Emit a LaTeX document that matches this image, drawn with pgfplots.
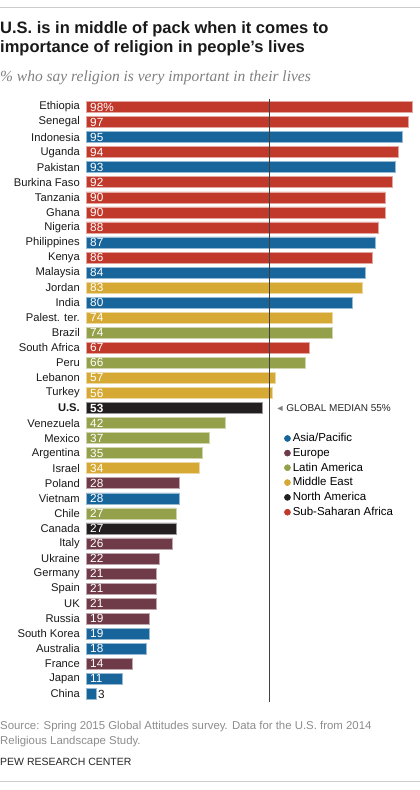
\documentclass[border=0pt]{standalone}
\usepackage{fontspec}
\setmainfont{Liberation Sans}
\newfontfamily\serifit{Liberation Serif}
\usepackage{pgfplots}
\pgfplotsset{compat=1.18}
\definecolor{cAsia}{HTML}{17659B}
\definecolor{cEurope}{HTML}{703B48}
\definecolor{cLatin}{HTML}{95A04B}
\definecolor{cMideast}{HTML}{D5A934}
\definecolor{cNorth}{HTML}{231F20}
\definecolor{cAfrica}{HTML}{C0392B}
\pgfplotsset{
  mybar/.style={xbar, bar shift=0pt, bar width=11pt, fill=#1, draw=#1!45!white, line width=0.6pt,
    legend image code/.code={\fill[#1] (3pt,0pt) circle (3pt);}},
}
\begin{document}
\begin{tikzpicture}[x=1pt,y=1pt]
\path[use as bounding box] (0,0) rectangle (420,-790);
\draw[black!20, line width=1pt] (0,-7) -- (420,-7);
\node[anchor=base west, inner sep=0pt, font=\fontsize{16.5}{20}\selectfont\bfseries, text=black!90] at (0,-33.3) {U.S. is in middle of pack when it comes to};
\node[anchor=base west, inner sep=0pt, font=\fontsize{16.5}{20}\selectfont\bfseries, text=black!90] at (0,-52.7) {importance of religion in people’s lives};
\node[anchor=base west, inner sep=0pt, font=\fontsize{15.5}{18}\selectfont\serifit\itshape, text=black!50] at (0,-81.7) {\% who say religion is very important in their lives};

\begin{axis}[at={(86pt,-99.5pt)}, anchor=north west, scale only axis,
  width=332.7pt, height=602pt,
  xmin=0, xmax=100, ymin=0.5, ymax=40.5, y dir=reverse, clip=false,
  axis line style={draw=none}, xtick=\empty, ytick={1,...,40}, major tick length=0pt,
  yticklabels={Ethiopia,Senegal,Indonesia,Uganda,Pakistan,Burkina Faso,Tanzania,Ghana,Nigeria,Philippines,Kenya,Malaysia,Jordan,India,Palest. ter.,Brazil,South Africa,Peru,Lebanon,Turkey,\textbf{U.S.},Venezuela,Mexico,Argentina,Israel,Poland,Vietnam,Chile,Canada,Italy,Ukraine,Germany,Spain,UK,Russia,South Korea,Australia,France,Japan,China},
  yticklabel style={font=\fontsize{11.2}{13}\selectfont, anchor=east, inner sep=0pt, xshift=-6pt, text=black!90},
  legend style={at={(axis cs:59.5,22.55)}, anchor=north west, draw=none, fill=none,
    font=\fontsize{11.5}{13}\selectfont, row sep=1pt, inner sep=0pt},
  legend cell align=left,
]
\addplot[mybar=cAsia] coordinates {(95,3) (93,5) (87,10) (84,12) (80,14) (28,27) (19,36) (18,37) (11,39) (3,40)};
\addlegendentry{Asia/Pacific}
\addplot[mybar=cEurope] coordinates {(28,26) (26,30) (22,31) (21,32) (21,33) (21,34) (19,35) (14,38)};
\addlegendentry{Europe}
\addplot[mybar=cLatin] coordinates {(74,16) (66,18) (42,22) (37,23) (35,24) (27,28)};
\addlegendentry{Latin America}
\addplot[mybar=cMideast] coordinates {(83,13) (74,15) (57,19) (56,20) (34,25)};
\addlegendentry{Middle East}
\addplot[mybar=cNorth] coordinates {(53,21) (27,29)};
\addlegendentry{North America}
\addplot[mybar=cAfrica] coordinates {(98,1) (97,2) (94,4) (92,6) (90,7) (90,8) (88,9) (86,11) (67,17)};
\addlegendentry{Sub-Saharan Africa}

\addplot[forget plot, draw=none, mark=none, nodes near coords, point meta=explicit symbolic,
  nodes near coords style={anchor=west, text=white, font=\fontsize{11.8}{13}\selectfont, inner sep=0pt, xshift=4pt}]
  coordinates {(0,1) [98\%] (0,2) [97] (0,3) [95] (0,4) [94] (0,5) [93] (0,6) [92] (0,7) [90] (0,8) [90]
  (0,9) [88] (0,10) [87] (0,11) [86] (0,12) [84] (0,13) [83] (0,14) [80] (0,15) [74] (0,16) [74]
  (0,17) [67] (0,18) [66] (0,19) [57] (0,20) [56] (0,21) [\textbf{53}] (0,22) [42] (0,23) [37] (0,24) [35]
  (0,25) [34] (0,26) [28] (0,27) [28] (0,28) [27] (0,29) [27] (0,30) [26] (0,31) [22] (0,32) [21]
  (0,33) [21] (0,34) [21] (0,35) [19] (0,36) [19] (0,37) [18] (0,38) [14] (0,39) [11]};
\addplot[forget plot, draw=none, mark=none, nodes near coords, point meta=explicit symbolic,
  nodes near coords style={anchor=west, text=black!90, font=\fontsize{11.8}{13}\selectfont, inner sep=0pt, xshift=2pt}]
  coordinates {(3,40) [3]};
\addplot[forget plot, black!75, line width=0.8pt] coordinates {(55,0.45) (55,40.55)};
\node[anchor=west, inner sep=0pt, font=\fontsize{10}{12}\selectfont, text=black!85] at (axis cs:56.9,21)
  {\textcolor{black!50}{\fontsize{9}{10}\selectfont ◄}\hspace{2pt}GLOBAL MEDIAN 55\%};
\end{axis}

\node[anchor=base west, inner sep=0pt, font=\fontsize{11.4}{13}\selectfont, text=black!45] at (0,-729.3) {Source: Spring 2015 Global Attitudes survey. Data for the U.S. from 2014};
\node[anchor=base west, inner sep=0pt, font=\fontsize{11.4}{13}\selectfont, text=black!45] at (0,-744) {Religious Landscape Study.};
\node[anchor=base west, inner sep=0pt, font=\fontsize{10.5}{13}\selectfont, text=black!85] at (0,-765.7) {PEW RESEARCH CENTER};
\draw[black!20, line width=1pt] (0,-781.7) -- (420,-781.7);
\end{tikzpicture}
\end{document}
